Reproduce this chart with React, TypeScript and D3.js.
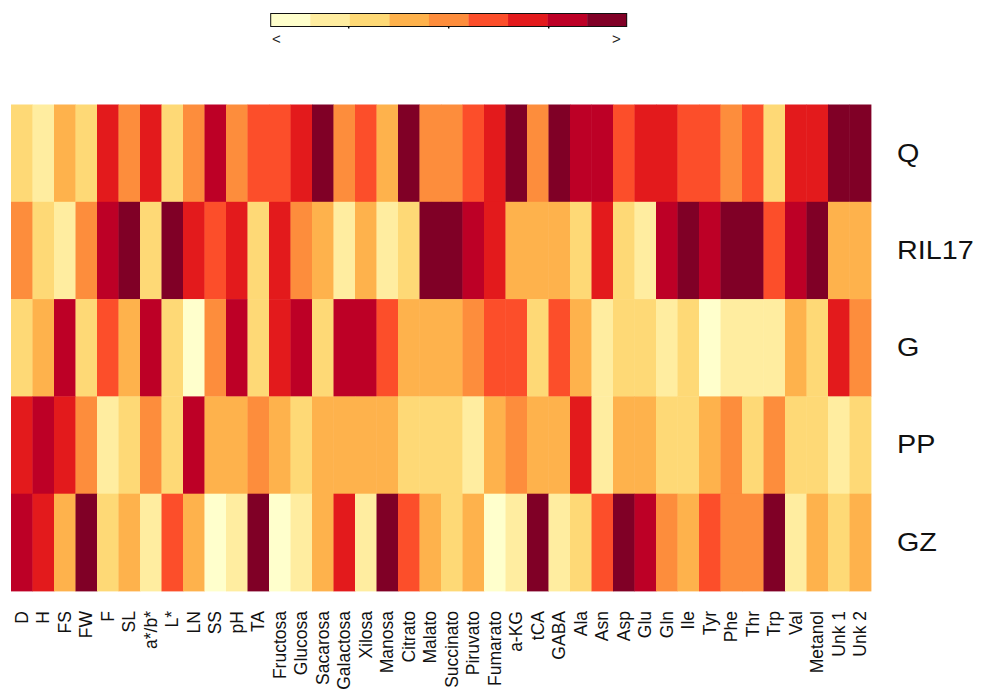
import React from "react";
import * as d3 from "d3";

const columns = ["D","H","FS","FW","F","SL","a*/b*","L*","LN","SS","pH","TA","Fructosa","Glucosa","Sacarosa","Galactosa","Xilosa","Manosa","Citrato","Malato","Succinato","Piruvato","Fumarato","a-KG","tCA","GABA","Ala","Asn","Asp","Glu","Gln","Ile","Tyr","Phe","Thr","Trp","Val","Metanol","Unk 1","Unk 2"];
const rows = ["Q","RIL17","G","PP","GZ"];

// colour level (0..8) per cell
const valQ     = [2,1,3,2,6,4,6,2,4,7, 4,5,5,6,8,4,5,3,8,4, 4,5,6,8,4,8,7,7,5,6, 6,5,5,4,5,2,6,6,8,8];
const valRIL17 = [4,2,1,4,7,8,2,8,6,5, 6,2,6,4,3,1,3,1,2,8, 8,7,6,3,3,3,2,6,2,1, 7,8,7,8,8,5,7,8,3,3];
const valG     = [2,3,7,2,5,3,7,2,0,4, 7,2,6,7,2,7,7,5,3,3, 3,4,5,5,2,5,3,1,2,2, 1,2,0,1,1,1,3,2,6,4];
const valPP    = [6,7,6,4,1,2,4,2,7,3, 3,4,3,2,3,3,3,3,2,2, 2,1,3,4,3,3,6,1,3,3, 2,2,3,4,2,4,2,2,1,2];
const valGZ    = [7,6,3,8,2,3,1,5,3,0, 1,8,0,1,3,6,1,8,5,3, 2,3,0,1,8,1,2,5,8,7, 4,3,5,4,4,8,1,3,2,3];

const levels = [0,1,2,3,4,5,6,7,8];
const legendDomain = [-1.78, 1.78];
const legendTicks = [-1, 0, 1];

export default function App() {
  const W = 987, H = 693;
  const left = 11, right = 871, top = 104.5, bottom = 591;
  const x = d3.scaleBand<string>().domain(columns).range([left, right]).padding(0);
  const y = d3.scaleBand<string>().domain(rows).range([top, bottom]).padding(0);
  const palette = d3.schemeYlOrRd[9];
  const color = d3.scaleOrdinal<number, string>().domain(levels).range(palette);
  const values: Record<string, number[]> = { Q: valQ, RIL17: valRIL17, G: valG, PP: valPP, GZ: valGZ };

  const lx = d3.scaleLinear().domain(legendDomain).range([270.7, 626.7]);
  const lband = d3.scaleBand<number>().domain(levels).range([270.7, 626.7]).padding(0);
  const ly0 = 13.5, ly1 = 26.5;

  const font = "'Liberation Sans', Arial, Helvetica, sans-serif";

  return (
    <svg width={W} height={H} style={{ position: "absolute", left: 0, top: 0, background: "#fff" }}>
      {/* legend */}
      <g>
        {levels.map((l) => (
          <rect key={l} x={lband(l)} y={ly0} width={lband.bandwidth() + 0.3} height={ly1 - ly0} fill={color(l)} />
        ))}
        <rect x={270.7} y={ly0} width={626.7 - 270.7} height={ly1 - ly0} fill="none" stroke="#111" strokeWidth={1} />
        {legendTicks.map((t) => (
          <line key={t} x1={lx(t)} x2={lx(t)} y1={ly1} y2={ly1 + 2} stroke="#111" strokeWidth={1.5} />
        ))}
        <text x={272} y={44} fontFamily={font} fontSize={15} fill="#222">&lt;</text>
        <text x={612} y={44} fontFamily={font} fontSize={15} fill="#222">&gt;</text>
      </g>
      {/* cells */}
      <g>
        {rows.map((r) =>
          columns.map((c, i) => (
            <rect
              key={r + c}
              x={x(c)}
              y={y(r)}
              width={x.bandwidth() + 0.4}
              height={y.bandwidth() + 0.4}
              fill={color(values[r][i])}
            />
          ))
        )}
      </g>
      {/* row labels */}
      <g>
        {rows.map((r) => (
          <text
            key={r}
            transform={`translate(897,${(y(r) as number) + y.bandwidth() / 2}) scale(1.15,1)`}
            dominantBaseline="central"
            fontFamily={font}
            fontSize={25}
            fill="#111"
          >
            {r}
          </text>
        ))}
      </g>
      {/* column labels */}
      <g>
        {columns.map((c) => (
          <text
            key={c}
            transform={`translate(${(x(c) as number) + x.bandwidth() / 2},611) rotate(-90)`}
            textAnchor="end"
            dominantBaseline="central"
            fontFamily={font}
            fontSize={17.5}
            fill="#111"
          >
            {c}
          </text>
        ))}
      </g>
    </svg>
  );
}
